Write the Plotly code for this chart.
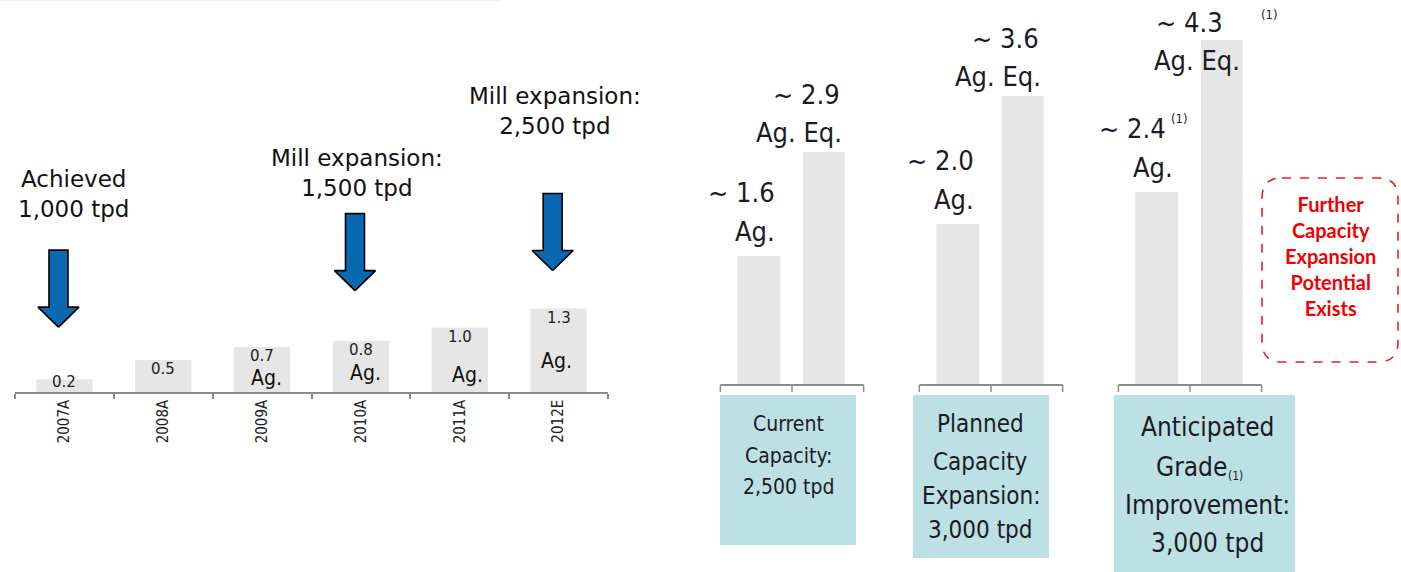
import plotly.graph_objects as go

W, H = 1401, 572

# ---------------- data: silver production history (left panel) ----------------
years = ["2007A", "2008A", "2009A", "2010A", "2011A", "2012E"]
production = [0.2, 0.5, 0.7, 0.8, 1.0, 1.3]
ag_tagged_years = ["2009A", "2010A", "2011A", "2012E"]

milestone_years = ["2007A", "2010A", "2012E"]
milestone_text = ["Achieved<br>1,000 tpd",
                  "Mill expansion:<br>1,500 tpd",
                  "Mill expansion:<br>2,500 tpd"]

# ---------------- data: capacity scenarios (right panel) ----------------
scenario_lines = [["Current", "Capacity:", "2,500 tpd"],
                  ["Planned", "Capacity", "Expansion:", "3,000 tpd"],
                  ["Anticipated", "Grade", "Improvement:", "3,000 tpd"]]
silver = [1.6, 2.0, 2.4]
silver_eq = [2.9, 3.6, 4.3]
silver_note = [False, False, True]
silver_eq_note = [False, False, True]
potential_text = "Further<br>Capacity<br>Expansion<br>Potential<br>Exists"

# ---------------- layout helpers ----------------
def px(x):
    return x / W


def py(y):
    return 1 - y / H


BAR_GREY = "#e6e6e6"
ARROW_BLUE = "#0a69b1"
TEAL = "#bce0e3"
INK = "#1b1b24"
COND = "DejaVu Sans Condensed, DejaVu Sans, sans-serif"
HUMAN = "DejaVu Sans, Verdana, sans-serif"

# left panel geometry (pixels)
L_X0, L_X1 = 15, 608
L_BASE = 392
L_SCALE = 64.2          # px per unit
L_RANGE = [0, 5.2]
L_STEP = (L_X1 - L_X0) / len(years)

# right panel geometry (pixels)
R_BASE = 384
R_SCALE = 80.0
R_RANGE = [0, 4.5]
R_C0, R_STEP = 792, 199
AG_OFF, AG_W = -0.167, 0.216
EQ_OFF, EQ_W = 0.16, 0.21

fig = go.Figure()

# ---- left: yearly production bars ----
xi = list(range(len(years)))
fig.add_trace(go.Bar(x=xi, y=production, width=0.57, marker_color=BAR_GREY,
                     marker_line_width=0, xaxis="x", yaxis="y",
                     hoverinfo="skip", showlegend=False))

# ---- left: milestone block arrows ----
def arrow_shape(cx, tip):
    ux = 1 / L_STEP
    uy = 1 / L_SCALE
    pts = [(0, 0), (20.5, 20), (9.5, 20), (9.5, 77), (-9.5, 77), (-9.5, 20), (-20.5, 20), (0, 0)]
    return [cx + a * ux for a, _ in pts], [tip + b * uy for _, b in pts]

arrow_gap = {"2007A": 52, "2010A": 50, "2012E": 38}   # px between bar top and arrow tip
for yr in milestone_years:
    i = years.index(yr)
    tip = production[i] + arrow_gap[yr] / L_SCALE
    ax_, ay_ = arrow_shape(i - 0.06, tip)
    fig.add_trace(go.Scatter(x=ax_, y=ay_, mode="lines", fill="toself",
                             fillcolor=ARROW_BLUE, line=dict(color="#000000", width=1.6),
                             xaxis="x", yaxis="y", hoverinfo="skip", showlegend=False))

# ---- right: Ag and Ag. Eq. bars ----
gi = list(range(len(silver)))
fig.add_trace(go.Bar(x=[g + AG_OFF for g in gi], y=silver, width=AG_W,
                     marker_color=BAR_GREY, marker_line_width=0,
                     xaxis="x2", yaxis="y2", hoverinfo="skip", showlegend=False))
fig.add_trace(go.Bar(x=[g + EQ_OFF for g in gi], y=silver_eq, width=EQ_W,
                     marker_color=BAR_GREY, marker_line_width=0,
                     xaxis="x2", yaxis="y2", hoverinfo="skip", showlegend=False))

annotations = []
shapes = []


def note(x, y, text, size, family=COND, color=INK, xref="paper", yref="paper",
         xanchor="center", yanchor="middle", xshift=0, yshift=0, align="center"):
    annotations.append(dict(x=x, y=y, xref=xref, yref=yref, text=text, showarrow=False,
                            xanchor=xanchor, yanchor=yanchor, xshift=xshift, yshift=yshift,
                            align=align, font=dict(family=family, size=size, color=color)))


# value labels on left bars
for i, v in enumerate(production):
    note(i, max(v, 0.3), f"{v:.1f}", 15, family=HUMAN, color="#222222",
         xref="x", yref="y", yshift=-9)

# "Ag." tags on left bars
ag_shift = {"2009A": (4, 0), "2010A": (5, 5), "2011A": (8, 3), "2012E": (-2, 17)}
for yr in ag_tagged_years:
    i = years.index(yr)
    dx, dy = ag_shift[yr]
    note(i, 0, "Ag.", 21, color="#111111", xref="x", yref="y", yanchor="bottom",
         xshift=dx, yshift=dy)

# milestone captions
caption_pos = {"2007A": (73, 194), "2010A": (357, 173), "2012E": (555, 111)}
for yr, txt in zip(milestone_years, milestone_text):
    cx, cy = caption_pos[yr]
    note(px(cx), py(cy), txt, 23, family=HUMAN, color="#111111")

# right bar labels: two stacked lines above each bar
LABEL_SIZE = 27
for g in gi:
    ag_right = g + AG_OFF + AG_W / 2
    eq_right = g + EQ_OFF + EQ_W / 2
    ag_x1 = -10 if silver_note[g] else -3
    note(ag_right, silver[g], f"~ {silver[g]:.1f}", LABEL_SIZE, xref="x2", yref="y2",
         xanchor="right", xshift=ag_x1, yshift=64)
    note(ag_right, silver[g], "Ag.", LABEL_SIZE, xref="x2", yref="y2",
         xanchor="right", xshift=-3, yshift=25)
    if silver_note[g]:
        note(ag_right, silver[g], "(1)", 13, xref="x2", yref="y2", xanchor="left",
             xshift=-9, yshift=74)

    # the tallest bar leaves no headroom, so its label sits over the bar top
    lift = -40 if silver_eq_note[g] else 0
    eq_x1 = -18 if silver_eq_note[g] else -3
    note(eq_right, silver_eq[g], f"~ {silver_eq[g]:.1f}", LABEL_SIZE, xref="x2", yref="y2",
         xanchor="right", xshift=eq_x1, yshift=58 + lift)
    note(eq_right, silver_eq[g], "Ag. Eq.", LABEL_SIZE, xref="x2", yref="y2",
         xanchor="right", xshift=-1, yshift=20 + lift)
    if silver_eq_note[g]:
        note(eq_right, silver_eq[g], "(1)", 13, xref="x2", yref="y2", xanchor="left",
             xshift=16, yshift=66 + lift)

# group baselines with end/middle ticks
for g in gi:
    a, b = g - 0.36, g + 0.36
    yb, yt = py(385), py(392)
    shapes.append(dict(type="line", xref="x2", yref="paper", x0=a, x1=b, y0=yb, y1=yb,
                       line=dict(color="#8c8c8c", width=2)))
    for t in (a, g, b):
        shapes.append(dict(type="line", xref="x2", yref="paper", x0=t, x1=t, y0=yb, y1=yt,
                           line=dict(color="#8c8c8c", width=1.5)))

# scenario boxes: (x0, x1, y0, y1, font size, text centre x, line centres y)
boxes = [(720, 856, 395, 545, 21, 788, [424, 456, 487]),
         (913, 1049, 395, 558, 24, 981, [424, 462, 496, 530]),
         (1114, 1295, 395, 572, 26, 1207, [427, 467, 505, 543])]
for (x0, x1, y0, y1, fs, tx, ys), lines in zip(boxes, scenario_lines):
    shapes.append(dict(type="rect", xref="paper", yref="paper", x0=px(x0), x1=px(x1),
                       y0=py(y1), y1=py(y0), fillcolor=TEAL, line=dict(width=0), layer="below"))
    for ln, yy in zip(lines, ys):
        cx = tx - 16 if ln == "Grade" else tx
        note(px(cx), py(yy), ln, fs)
        if ln == "Grade":
            note(px(cx + 44), py(yy + 9), "(1)", 12)

# dashed rounded callout
bx0, bx1, by0, by1, r = 1262, 1398, 178, 362, 20
path = (f"M {px(bx0 + r)} {py(by0)} L {px(bx1 - r)} {py(by0)} "
        f"Q {px(bx1)} {py(by0)} {px(bx1)} {py(by0 + r)} L {px(bx1)} {py(by1 - r)} "
        f"Q {px(bx1)} {py(by1)} {px(bx1 - r)} {py(by1)} L {px(bx0 + r)} {py(by1)} "
        f"Q {px(bx0)} {py(by1)} {px(bx0)} {py(by1 - r)} L {px(bx0)} {py(by0 + r)} "
        f"Q {px(bx0)} {py(by0)} {px(bx0 + r)} {py(by0)} Z")
shapes.append(dict(type="path", xref="paper", yref="paper", path=path,
                   line=dict(color="#ee1c1c", width=1.6, dash="dash")))
note(px(1330), py(256), f"<b>{potential_text}</b>", 20,
     family="Lato, DejaVu Sans Condensed, sans-serif", color="#f00000")

# faint page rule along the top
shapes.append(dict(type="line", xref="paper", yref="paper", x0=0, x1=px(500), y0=py(0.5),
                   y1=py(0.5), line=dict(color="#f0f0f0", width=1.5)))

fig.update_layout(
    width=W, height=H, margin=dict(l=0, r=0, t=0, b=0),
    paper_bgcolor="white", plot_bgcolor="rgba(0,0,0,0)",
    barmode="overlay", showlegend=False,
    font=dict(family=HUMAN, color="#111111"),
    xaxis=dict(domain=[px(L_X0), px(L_X1)], range=[-0.5, len(years) - 0.5],
               tickmode="array", tickvals=xi, ticktext=years, tickangle=-90,
               ticks="", showline=True, linecolor="#8a8a8a", linewidth=1.5,
               showgrid=False, zeroline=False, fixedrange=True,
               tickfont=dict(family=COND, size=15, color="#222222"),
               minor=dict(tickmode="array", tickvals=[k - 0.5 for k in range(len(years) + 1)],
                          ticks="outside", ticklen=5, tickcolor="#8a8a8a", tickwidth=1.5,
                          showgrid=False)),
    yaxis=dict(domain=[py(L_BASE), py(L_BASE - (L_RANGE[1] - L_RANGE[0]) * L_SCALE)],
               range=L_RANGE, visible=False, fixedrange=True),
    xaxis2=dict(domain=[px(R_C0 - 0.5 * R_STEP), px(R_C0 + 2.5 * R_STEP)],
                range=[-0.5, 2.5], visible=False, anchor="y2", fixedrange=True),
    yaxis2=dict(domain=[py(R_BASE), py(R_BASE - (R_RANGE[1] - R_RANGE[0]) * R_SCALE)],
                range=R_RANGE, visible=False, anchor="x2", fixedrange=True),
    annotations=annotations, shapes=shapes,
)

fig.write_html("out.html")
